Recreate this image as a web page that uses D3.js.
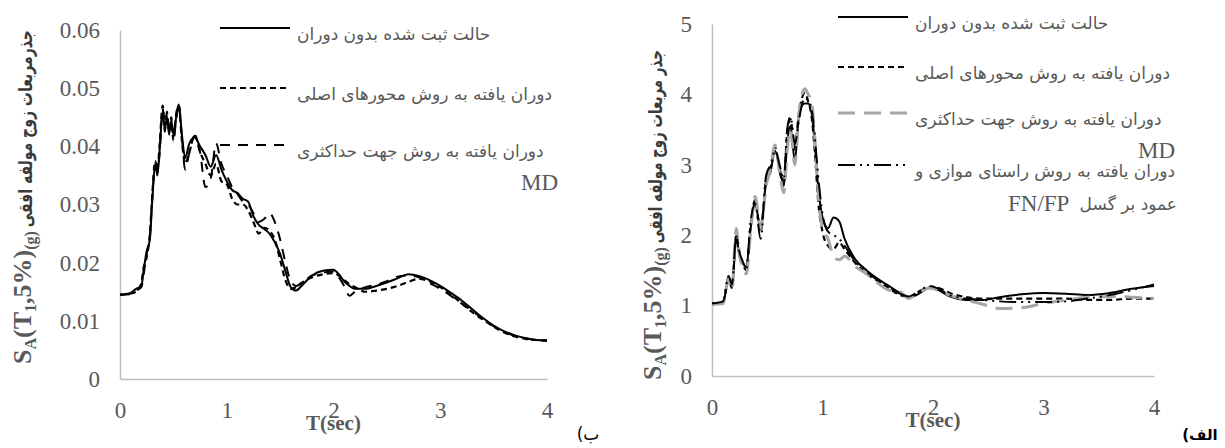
<!DOCTYPE html>
<meta charset="utf-8">
<style>
  body { margin: 0; background: #fff; }
</style>
<body>
<script src="https://cdn.jsdelivr.net/npm/d3@7"></script>
<script>

// ---- chart (ب) : left ----
var tB = [0, 0.1, 0.15, 0.2, 0.22, 0.25, 0.28, 0.3, 0.33, 0.35, 0.37, 0.4, 0.42, 0.44, 0.46, 0.48,
  0.5, 0.53, 0.55, 0.58, 0.61, 0.65, 0.7, 0.75, 0.8, 0.85, 0.9, 0.95, 1.0, 1.05, 1.1, 1.15, 1.2,
  1.25, 1.3, 1.35, 1.4, 1.45, 1.5, 1.55, 1.6, 1.65, 1.7, 1.8, 1.9, 2.0, 2.05, 2.1, 2.15, 2.2, 2.3,
  2.4, 2.5, 2.6, 2.7, 2.8, 2.9, 3.0, 3.1, 3.2, 3.3, 3.4, 3.5, 3.6, 3.7, 3.8, 3.9, 4.0];

var recordedB = [0.0145, 0.0148, 0.0155, 0.016, 0.0185, 0.022, 0.024, 0.030, 0.037, 0.035, 0.039, 0.046,
  0.043, 0.045, 0.042, 0.0445, 0.042, 0.0455, 0.0472, 0.042, 0.038, 0.0405, 0.0415, 0.040, 0.0385,
  0.0365, 0.0385, 0.036, 0.034, 0.0325, 0.032, 0.031, 0.0305, 0.028, 0.0265, 0.0258, 0.025, 0.0235,
  0.0215, 0.0185, 0.0158, 0.0152, 0.016, 0.0178, 0.0186, 0.0188, 0.018, 0.0168, 0.016, 0.0155, 0.0155,
  0.016, 0.0166, 0.0173, 0.018, 0.0177, 0.017, 0.016, 0.0148, 0.0135, 0.012, 0.0105, 0.0092, 0.0082,
  0.0075, 0.007, 0.0067, 0.0066];

var principalB = [0.0145, 0.0147, 0.015, 0.0165, 0.019, 0.021, 0.025, 0.031, 0.0375, 0.036, 0.040, 0.047,
  0.0435, 0.0455, 0.043, 0.045, 0.041, 0.046, 0.0468, 0.041, 0.037, 0.039, 0.042, 0.039, 0.037, 0.035,
  0.037, 0.034, 0.0335, 0.031, 0.030, 0.030, 0.029, 0.027, 0.025, 0.026, 0.0255, 0.024, 0.0205, 0.017,
  0.0155, 0.0158, 0.0165, 0.0175, 0.018, 0.0182, 0.0178, 0.017, 0.0163, 0.0158, 0.015, 0.0152, 0.0155,
  0.016, 0.0167, 0.0172, 0.0168, 0.0158, 0.0145, 0.013, 0.0115, 0.0102, 0.009, 0.008, 0.0073, 0.0069,
  0.0067, 0.0066];

var maxDirB = [0.0145, 0.0146, 0.0152, 0.0158, 0.0178, 0.0215, 0.0245, 0.0305, 0.0365, 0.0355, 0.0385,
  0.0465, 0.0425, 0.046, 0.0425, 0.044, 0.0415, 0.045, 0.0474, 0.0415, 0.036, 0.039, 0.0418, 0.039,
  0.033, 0.0345, 0.0405, 0.037, 0.035, 0.033, 0.0318, 0.0305, 0.030, 0.0285, 0.027, 0.0275, 0.0285,
  0.027, 0.024, 0.020, 0.0168, 0.016, 0.0165, 0.0178, 0.0183, 0.0185, 0.0175, 0.016, 0.0143, 0.015,
  0.0158, 0.0162, 0.0168, 0.0176, 0.0178, 0.0175, 0.0165, 0.0155, 0.0143, 0.013, 0.0117, 0.0103,
  0.0091, 0.0081, 0.0074, 0.007, 0.0067, 0.0066];

var yTicksB = [0, 0.01, 0.02, 0.03, 0.04, 0.05, 0.06];

// ---- chart (الف) : right ----
var tA = [0, 0.1, 0.15, 0.18, 0.22, 0.25, 0.28, 0.31, 0.35, 0.39, 0.44, 0.49, 0.53, 0.57, 0.62, 0.65,
  0.68, 0.71, 0.75, 0.78, 0.8, 0.84, 0.87, 0.9, 0.93, 0.96, 1.0, 1.05, 1.1, 1.15, 1.2, 1.3, 1.4, 1.5,
  1.6, 1.7, 1.78, 1.85, 1.97, 2.05, 2.15, 2.3, 2.45, 2.6, 2.8, 3.0, 3.2, 3.4, 3.6, 3.8, 4.0];

var recordedA = [1.03, 1.05, 1.35, 1.25, 1.95, 1.7, 1.6, 1.55, 2.1, 2.45, 2.1, 2.75, 2.9, 3.2, 2.9, 2.7,
  3.3, 3.55, 3.05, 3.6, 3.8, 3.87, 3.87, 3.75, 3.3, 2.7, 2.25, 2.1, 2.25, 2.2, 1.95, 1.65, 1.5, 1.38,
  1.28, 1.18, 1.12, 1.15, 1.25, 1.22, 1.13, 1.08, 1.08, 1.12, 1.16, 1.18, 1.17, 1.15, 1.18, 1.24, 1.28];

var principalA = [1.03, 1.05, 1.4, 1.28, 2.0, 1.72, 1.58, 1.5, 2.15, 2.5, 2.05, 2.8, 2.95, 3.25, 2.85,
  2.75, 3.45, 3.65, 3.2, 3.65, 3.85, 4.02, 3.9, 3.7, 3.2, 2.5, 2.05, 1.85, 1.8, 1.9, 1.8, 1.6, 1.45,
  1.35, 1.25, 1.15, 1.12, 1.18, 1.26, 1.25, 1.18, 1.12, 1.1, 1.1, 1.1, 1.1, 1.1, 1.08, 1.08, 1.1, 1.1];

var maxDirA = [1.02, 1.03, 1.38, 1.22, 2.1, 1.7, 1.55, 1.45, 2.05, 2.55, 2.1, 2.7, 2.95, 3.28, 2.8, 2.6,
  3.2, 3.5, 3.0, 3.6, 3.9, 4.08, 4.0, 3.9, 3.4, 2.6, 2.1, 1.95, 1.7, 1.65, 1.7, 1.55, 1.45, 1.32, 1.22,
  1.2, 1.1, 1.16, 1.25, 1.22, 1.15, 1.08, 1.02, 0.96, 0.97, 1.03, 1.08, 1.12, 1.13, 1.12, 1.1];

var faultA = [1.03, 1.06, 1.42, 1.3, 1.98, 1.75, 1.62, 1.52, 2.2, 2.45, 1.95, 2.85, 3.0, 3.2, 2.95, 2.8,
  3.5, 3.68, 3.3, 3.55, 3.75, 3.95, 3.92, 3.8, 3.4, 2.85, 2.3, 2.05, 2.0, 1.95, 1.85, 1.62, 1.48, 1.36,
  1.27, 1.17, 1.13, 1.18, 1.28, 1.24, 1.15, 1.1, 1.08, 1.06, 1.05, 1.05, 1.06, 1.1, 1.15, 1.22, 1.3];

var yTicksA = [0, 1, 2, 3, 4, 5];
var xTicks = [0, 1, 2, 3, 4];

var legendB = ["حالت ثبت شده بدون دوران", "دوران یافته به روش محورهای اصلی", "دوران یافته به روش جهت حداکثری"];
var legendA = ["حالت ثبت شده بدون دوران", "دوران یافته به روش محورهای اصلی", "دوران یافته به روش جهت حداکثری",
  "دوران یافته به روش راستای موازی و"];

var styles = {
  solid: { color: "#000", width: 2, dash: null },
  shortDash: { color: "#000", width: 2.2, dash: "6,4" },
  longDash: { color: "#000", width: 2, dash: "10,8" },
  grey: { color: "#a6a6a6", width: 3, dash: "17,9" },
  dashDot: { color: "#000", width: 2, dash: "17,5,2,5,2,5" }
};

var serif = "'Liberation Serif', 'Times New Roman', serif";
var persian = "'DejaVu Sans', sans-serif";

var svg = d3.select("body").append("svg")
    .attr("width", 1225)
    .attr("height", 448);

function drawChart(o) {
  var x = d3.scaleLinear().domain([0, 4]).range([o.left, o.right]);
  var y = d3.scaleLinear().domain([0, o.ymax]).range([o.bottom, o.top]);

  var g = svg.append("g");

  var ax = g.append("g")
      .attr("transform", "translate(0," + o.bottom + ")")
      .call(d3.axisBottom(x).tickValues(xTicks).tickFormat(d3.format("d"))
        .tickSize(0).tickSizeOuter(0).tickPadding(23));
  var ay = g.append("g")
      .attr("transform", "translate(" + o.left + ",0)")
      .call(d3.axisLeft(y).tickValues(o.yTicks).tickFormat(o.fmt)
        .tickSize(0).tickSizeOuter(0).tickPadding(20));
  [ax, ay].forEach(function(a) {
    a.attr("font-family", null).attr("font-size", null);
    a.select(".domain").attr("stroke", "#bfbfbf").attr("stroke-width", 1.5);
    a.selectAll(".tick text")
        .style("font-family", serif)
        .style("font-size", "23px")
        .style("fill", "#595959");
  });

  var line = d3.line()
      .x(function(d) { return x(d[0]); })
      .y(function(d) { return y(d[1]); })
      .curve(d3.curveMonotoneX);

  o.series.forEach(function(s) {
    var st = styles[s.style];
    g.append("path")
        .datum(o.t.map(function(t, i) { return [t, s.values[i]]; }))
        .attr("fill", "none")
        .attr("stroke", st.color)
        .attr("stroke-width", st.width)
        .attr("stroke-dasharray", st.dash)
        .attr("d", line);
  });

  // legend
  o.series.forEach(function(s, i) {
    var st = styles[s.style];
    var ly = o.legY[i];
    g.append("line")
        .attr("x1", o.legX).attr("x2", o.legX + 70)
        .attr("y1", ly).attr("y2", ly)
        .attr("stroke", st.color)
        .attr("stroke-width", st.width)
        .attr("stroke-dasharray", st.dash);
    g.append("text")
        .attr("x", o.legX + 77).attr("y", ly + 12)
        .style("font-family", persian)
        .style("font-size", "17px")
        .style("fill", "#595959")
        .text(o.legend[i]);
  });

  // x title
  g.append("text")
      .attr("x", x(2)).attr("y", o.bottom + 51)
      .attr("text-anchor", "middle")
      .style("font-family", serif)
      .style("font-weight", "bold")
      .style("font-size", "21px")
      .style("fill", "#595959")
      .text("T(sec)");

  // y title: latin part, then the persian part squeezed to fit up to o.ytTop
  var yt = g.append("text")
      .attr("transform", "translate(" + o.ytX + "," + o.ytY + ") rotate(-90)")
      .style("font-family", serif)
      .style("font-weight", "bold")
      .style("font-size", "26px")
      .style("fill", "#595959");
  yt.append("tspan").text("S");
  yt.append("tspan").attr("dy", 5).style("font-size", "16px").text("A");
  yt.append("tspan").attr("dy", -5).text("(T");
  yt.append("tspan").attr("dy", 5).style("font-size", "16px").text("1");
  yt.append("tspan").attr("dy", -5).text(",5%)");
  yt.append("tspan").attr("dy", 5).style("font-size", "16px").text("(g)");
  var latinLen = yt.node().getComputedTextLength() + 4;

  var pt = g.append("text")
      .style("font-family", persian)
      .style("font-weight", "bold")
      .style("font-size", "19px")
      .style("fill", "#3a3a3a")
      .text(o.ytText);
  var target = o.ytY - latinLen - o.ytTop;
  var sx = target / pt.node().getComputedTextLength();
  pt.attr("transform", "translate(" + (o.ytX + 1) + "," + (o.ytY - latinLen) + ") rotate(-90) scale(" + sx + ",1)");

  return g;
}

var gB = drawChart({
  left: 120, right: 547, top: 30, bottom: 379, ymax: 0.06,
  yTicks: yTicksB, fmt: function(d) { return d === 0 ? "0" : d3.format(".2f")(d); },
  t: tB,
  series: [
    { values: recordedB, style: "solid" },
    { values: principalB, style: "shortDash" },
    { values: maxDirB, style: "longDash" }
  ],
  legend: legendB, legX: 220, legY: [28, 88, 145],
  ytX: 31, ytY: 364, ytTop: 30, ytText: "جذرمربعات زوج مولفه افقی"
});

var gA = drawChart({
  left: 712, right: 1154, top: 24, bottom: 376, ymax: 5,
  yTicks: yTicksA, fmt: d3.format("d"),
  t: tA,
  series: [
    { values: recordedA, style: "solid" },
    { values: principalA, style: "shortDash" },
    { values: maxDirA, style: "grey" },
    { values: faultA, style: "dashDot" }
  ],
  legend: legendA, legX: 838, legY: [17, 67, 113, 165],
  ytX: 661, ytY: 380, ytTop: 50, ytText: "جذر مربعات زوج مولفه افقی"
});

// wrapped legend pieces
function serifText(g, x, y, anchor, str) {
  g.append("text").attr("x", x).attr("y", y).attr("text-anchor", anchor)
      .style("font-family", serif).style("font-size", "23px").style("fill", "#595959")
      .text(str);
}
serifText(gB, 558, 190, "end", "MD");
serifText(gA, 1175, 158, "end", "MD");
serifText(gA, 1008, 211, "start", "FN/FP");
gA.append("text").attr("x", 1177).attr("y", 210).attr("text-anchor", "end")
    .style("font-family", persian).style("font-size", "17px").style("fill", "#595959")
    .text("عمود بر گسل");

// panel letters
svg.append("text").attr("x", 588).attr("y", 440).attr("text-anchor", "middle")
    .attr("direction", "rtl")
    .style("font-family", persian).style("font-size", "17px").style("fill", "#000")
    .text("ب)");
svg.append("text").attr("x", 1200).attr("y", 440).attr("text-anchor", "middle")
    .attr("direction", "rtl")
    .style("font-family", persian).style("font-weight", "bold").style("font-size", "15px").style("fill", "#000")
    .text("الف)");

</script>
